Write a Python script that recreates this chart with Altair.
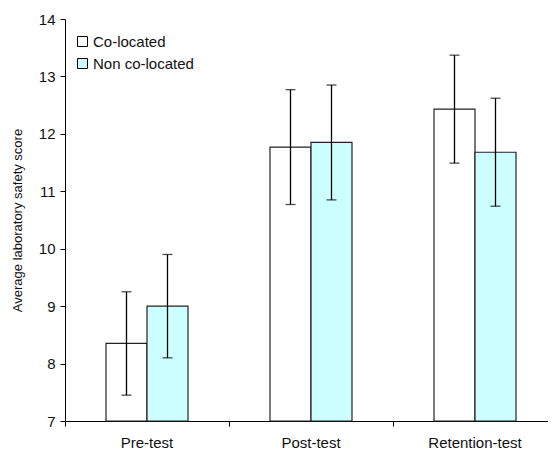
import altair as alt
import pandas as pd

categories = ["Pre-test", "Post-test", "Retention-test"]
groups = ["Co-located", "Non co-located"]
co_means = [8.35, 11.77, 12.43]
co_err = [0.90, 1.00, 0.94]
non_means = [9.00, 11.85, 11.68]
non_err = [0.90, 1.00, 0.94]

rows = []
for i, c in enumerate(categories):
    rows.append({"cat": c, "grp": groups[0], "mean": co_means[i], "lo": co_means[i] - co_err[i], "hi": co_means[i] + co_err[i], "base": 7})
    rows.append({"cat": c, "grp": groups[1], "mean": non_means[i], "lo": non_means[i] - non_err[i], "hi": non_means[i] + non_err[i], "base": 7})
df = pd.DataFrame(rows)

FONT = "Liberation Sans"

x_enc = alt.X("cat:N", sort=categories, title=None,
              scale=alt.Scale(range=[0, 492], paddingInner=0, paddingOuter=0),
              axis=alt.Axis(labelAngle=0, bandPosition=0, tickSize=5, labelPadding=9,
                            labelFontSize=15, labelFont=FONT, labelColor="#111111",
                            domainColor="black", tickColor="black", grid=False))
xoff = alt.XOffset("grp:N", sort=groups, scale=alt.Scale(paddingInner=0, paddingOuter=1))
y_scale = alt.Scale(domain=[7, 14], nice=False, zero=False)

bars = alt.Chart(df).mark_bar(stroke="#222222", strokeWidth=1.2).encode(
    x=x_enc,
    xOffset=xoff,
    y=alt.Y("mean:Q", scale=y_scale, title="Average laboratory safety score",
            axis=alt.Axis(values=[7, 8, 9, 10, 11, 12, 13, 14], format="d", tickSize=5, grid=False,
                          labelFontSize=15, labelFont=FONT, labelColor="#111111", labelPadding=5,
                          titleFont=FONT, titleFontSize=13, titleFontWeight="normal",
                          titleColor="#111111", titlePadding=14,
                          domainColor="black", tickColor="black")),
    y2="base:Q",
    fill=alt.Fill("grp:N", sort=groups, title=None,
                  scale=alt.Scale(domain=groups, range=["#FFFFFF", "#CCFFFF"]),
                  legend=alt.Legend(orient="none", legendX=10, legendY=15, symbolType="square",
                                    symbolSize=100, symbolStrokeColor="black", symbolStrokeWidth=1,
                                    labelFont=FONT, labelFontSize=15, labelColor="#111111",
                                    rowPadding=6, symbolOffset=0, labelOffset=3)),
)

err = alt.Chart(df).mark_rule(color="black", strokeWidth=1.3).encode(
    x=alt.X("cat:N", sort=categories),
    xOffset=alt.XOffset("grp:N", sort=groups),
    y=alt.Y("lo:Q", scale=y_scale),
    y2="hi:Q",
)
cap_lo = alt.Chart(df).mark_tick(color="black", size=10, thickness=1.3).encode(
    x=alt.X("cat:N", sort=categories),
    xOffset=alt.XOffset("grp:N", sort=groups),
    y=alt.Y("lo:Q", scale=y_scale),
)
cap_hi = alt.Chart(df).mark_tick(color="black", size=10, thickness=1.3).encode(
    x=alt.X("cat:N", sort=categories),
    xOffset=alt.XOffset("grp:N", sort=groups),
    y=alt.Y("hi:Q", scale=y_scale),
)

chart = alt.layer(bars, err, cap_lo, cap_hi).properties(
    width=483, height=402,
    autosize=alt.AutoSizeParams(type="none"),
    padding={"left": 57, "top": 11, "right": 0, "bottom": 32},
).configure_view(stroke=None)

chart.save("out.html", embed_options={"renderer": "svg", "actions": False})
